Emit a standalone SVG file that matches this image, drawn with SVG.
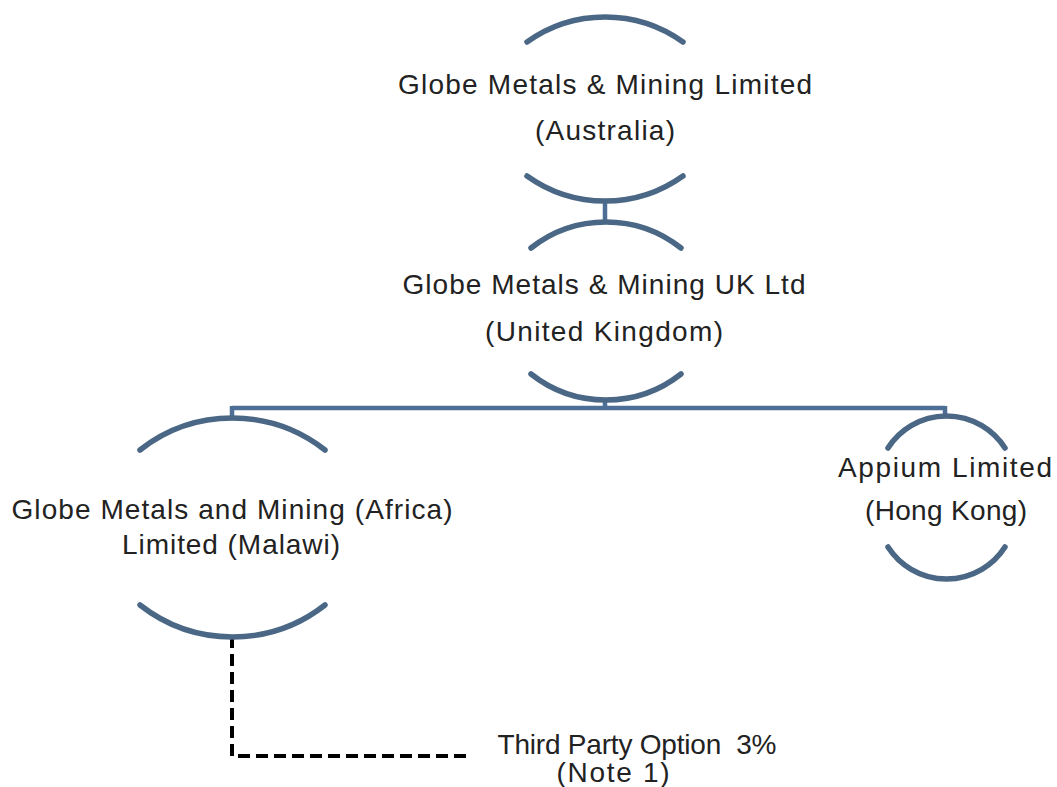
<svg xmlns="http://www.w3.org/2000/svg" width="1057" height="787" viewBox="0 0 1057 787">
<style>
.arc{fill:none;stroke:#4a6785;stroke-width:5.5;stroke-linecap:round}
.con{fill:none;stroke:#4d6f96;stroke-width:4.5}
.dash{fill:none;stroke:#000;stroke-width:4;stroke-dasharray:12 6}
text{font-family:"Liberation Sans",Arial,sans-serif;font-size:28px;fill:#222;text-anchor:middle}
</style>
<rect width="1057" height="787" fill="#fff"/>
<g id="connectors">
<path class="con" d="M605 200 V222"/>
<path class="con" d="M605 398 V408 M232 408 H945 M232 406 V419 M945 406 V417"/>
<path class="dash" d="M232 636 V756 H470"/>
</g>
<g id="node-australia">
<path class="arc" d="M527 42 A134 134 0 0 1 683 42"/>
<path class="arc" d="M527 176 A134 134 0 0 0 683 176"/>
<text x="605" y="94" textLength="414">Globe Metals &amp; Mining Limited</text>
<text x="605" y="140" textLength="140">(Australia)</text>
</g>
<g id="node-uk">
<path class="arc" d="M531 248 A121 121 0 0 1 681 248"/>
<path class="arc" d="M531 374 A121 121 0 0 0 681 374"/>
<text x="604" y="294" textLength="403">Globe Metals &amp; Mining UK Ltd</text>
<text x="604" y="341" textLength="238">(United Kingdom)</text>
</g>
<g id="node-malawi">
<path class="arc" d="M140 450 A150 150 0 0 1 325 450"/>
<path class="arc" d="M140 605 A150 150 0 0 0 325 605"/>
<text x="232" y="519" textLength="441">Globe Metals and Mining (Africa)</text>
<text x="231" y="554" textLength="218">Limited (Malawi)</text>
</g>
<g id="node-hongkong">
<path class="arc" d="M888 448 A69.5 69.5 0 0 1 1005 448"/>
<path class="arc" d="M888 547 A69.5 69.5 0 0 0 1005 547"/>
<text x="945" y="477" textLength="214">Appium Limited</text>
<text x="946" y="520" textLength="162">(Hong Kong)</text>
</g>
<g id="node-thirdparty">
<text x="637" y="754" textLength="279" xml:space="preserve">Third Party Option  3%</text>
<text x="613" y="782" textLength="113">(Note 1)</text>
</g>
</svg>
